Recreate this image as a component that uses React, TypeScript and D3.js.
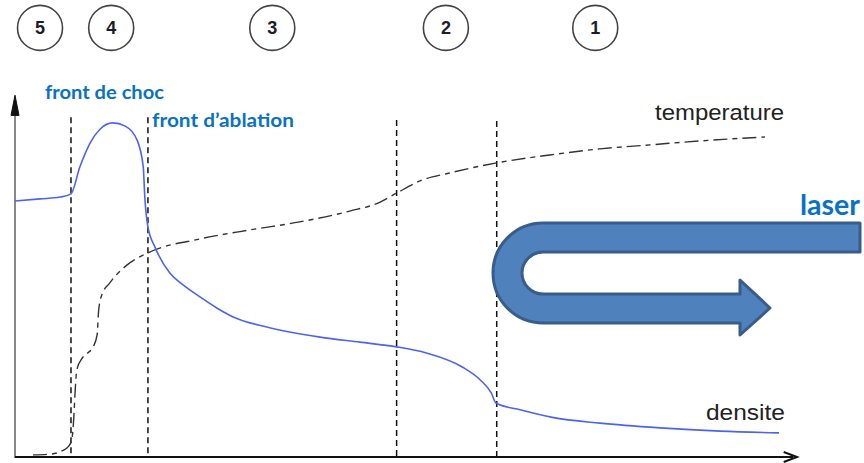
import React from 'react'
import * as d3 from 'd3'

// positions along the target (0..100) and normalised values (0..100)
const DENSITY_X = [0, 3.2, 5.75, 7.16, 8.3, 9.6, 10.9, 12.5, 14.1, 15.6, 16.4, 16.6, 17.0, 17.9, 19.8, 21.5, 23.7, 25.8, 27.9, 32.2, 39.0, 44.1, 48.8, 52.6, 57.2, 59.5, 60.9, 61.5, 64.6, 68.7, 74.8, 82.5, 90.2, 97.7]
const DENSITY_Y = [71.1, 71.7, 72.2, 73.1, 80.6, 87.2, 91.1, 92.8, 91.9, 88.1, 80.6, 72.2, 63.9, 58.3, 51.1, 47.8, 44.4, 41.4, 38.9, 36.1, 33.3, 31.9, 30.6, 28.9, 25.0, 21.4, 17.8, 15.0, 13.1, 11.0, 9.4, 8.1, 7.2, 6.7]

const TEMP_X = [2.3, 4.5, 6.0, 6.9, 7.3, 7.5, 7.7, 7.9, 8.6, 9.3, 10.0, 10.5, 10.7, 11.1, 12.1, 14.3, 17.0, 23.7, 30.1, 36.4, 42.8, 46.7, 48.8, 51.8, 55.6, 61.6, 68.4, 74.8, 81.2, 87.6, 95.9]
const TEMP_Y = [0.6, 0.8, 1.7, 3.1, 5.3, 10.3, 18.6, 24.2, 27.5, 28.9, 30.6, 33.9, 40.8, 45.0, 48.3, 53.3, 56.7, 60.6, 63.1, 65.3, 68.3, 70.8, 73.3, 76.7, 78.9, 81.7, 83.9, 85.6, 86.7, 87.8, 88.9]

// region boundaries (dashed) and their top ends
const FRONTS_X = [7.16, 17.0, 48.8, 61.6]
const FRONTS_TOP = [94.4, 94.4, 93.6, 93.3]

// numbered zones
const ZONE_LABELS = ['5', '4', '3', '2', '1']
const ZONE_X = [3.2, 12.3, 32.9, 55.1, 74.2]
const ZONE_Y = 119.2

const BLUE_TEXT = '#0a72c4'

export default function App() {
  const W = 864
  const H = 463
  const x = d3.scaleLinear().domain([0, 100]).range([15, 797])
  const y = d3.scaleLinear().domain([0, 100]).range([457, 97])

  const line = d3.line<[number, number]>()
    .x(d => x(d[0]))
    .y(d => y(d[1]))
    .curve(d3.curveMonotoneX)

  const density = DENSITY_X.map((v, i) => [v, DENSITY_Y[i]] as [number, number])
  const temp = TEMP_X.map((v, i) => [v, TEMP_Y[i]] as [number, number])

  const x0 = x(0)
  const y0 = y(0)

  // laser U-arrow, drawn in its own local frame
  const laserPath = [
    'M 367,0', 'L 50,0', 'A 50 50 0 0 0 50,100', 'L 247,100', 'L 247,112',
    'L 277,85', 'L 247,57', 'L 247,71', 'L 50,71', 'A 21 21 0 0 1 50,29', 'L 367,29', 'Z',
  ].join(' ')

  return (
    <svg width={W} height={H} style={{ position: 'absolute', left: 0, top: 0, display: 'block', background: '#fff' }}>
      {/* zone circles */}
      {ZONE_LABELS.map((l, i) => (
        <g key={l} transform={`translate(${x(ZONE_X[i])},${y(ZONE_Y)})`}>
          <circle r={22.5} fill="none" stroke="#444" strokeWidth={1.6} />
          <text y={6.5} textAnchor="middle" fontFamily="Liberation Sans, Arial, sans-serif" fontWeight={700} fontSize={18} fill="#1c1c2a">{l}</text>
        </g>
      ))}

      {/* fronts */}
      {FRONTS_X.map((f, i) => (
        <line key={i} x1={x(f)} x2={x(f)} y1={y(FRONTS_TOP[i])} y2={y0}
          stroke="#111" strokeWidth={1.5} strokeDasharray="6,4" />
      ))}

      {/* axes */}
      <line x1={x0} x2={x0} y1={y0 + 1} y2={y(96)} stroke="#888" strokeWidth={2} />
      <path d={`M ${x0 - 4},${y(96) + 4} L ${x0},${y(100.5)} L ${x0 + 4},${y(96) + 4} Z`} fill="#111" stroke="#111" strokeWidth={1} />
      <line x1={x0} x2={x(99.5)} y1={y0} y2={y0} stroke="#111" strokeWidth={2} />
      <path d={`M ${x(98.3)},${y0 - 5} L ${x(100)},${y0} L ${x(98.3)},${y0 + 5}`} fill="none" stroke="#111" strokeWidth={2} />

      {/* curves */}
      <path d={line(temp) ?? ''} fill="none" stroke="#333" strokeWidth={1.4} strokeDasharray="14,5,5,5" />
      <path d={line(density) ?? ''} fill="none" stroke="#4d63f0" strokeWidth={1.6} />

      {/* labels */}
      <text x={45} y={99} fontFamily="Lato, sans-serif" fontWeight={700} fontSize={18} fill={BLUE_TEXT}
        textLength={119} lengthAdjust="spacingAndGlyphs">front de choc</text>
      <text x={152} y={127} fontFamily="Lato, sans-serif" fontWeight={700} fontSize={18} fill={BLUE_TEXT}
        textLength={142} lengthAdjust="spacingAndGlyphs">front d’ablation</text>
      <text x={655} y={120} fontFamily="Liberation Sans, Arial, sans-serif" fontSize={22} fill="#222"
        textLength={129} lengthAdjust="spacingAndGlyphs">temperature</text>
      <text x={706} y={420} fontFamily="Liberation Sans, Arial, sans-serif" fontSize={22} fill="#222"
        textLength={79} lengthAdjust="spacingAndGlyphs">densite</text>
      <text x={800} y={215} fontFamily="Lato, sans-serif" fontWeight={700} fontSize={28} fill={BLUE_TEXT}
        textLength={60} lengthAdjust="spacingAndGlyphs">laser</text>

      {/* laser arrow */}
      <path transform="translate(493,223)" d={laserPath} fill="#4f81bd" stroke="#385d8a" strokeWidth={3} strokeLinejoin="round" />
    </svg>
  )
}
